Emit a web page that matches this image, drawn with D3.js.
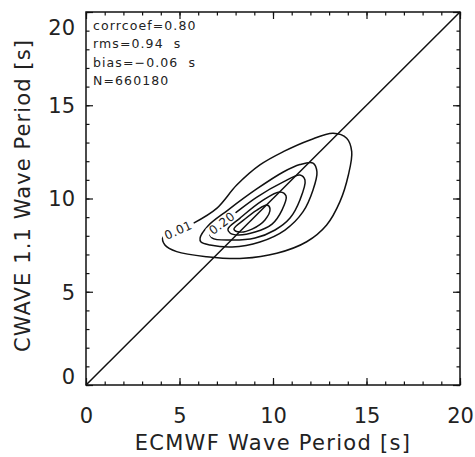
<!DOCTYPE html>
<html>
<head>
<meta charset="utf-8">
<script src="https://cdn.jsdelivr.net/npm/d3@7"></script>
<style>
  body { margin: 0; background: #fff; }
  text { font-family: "DejaVu Sans", sans-serif; fill: #222; }
</style>
</head>
<body>
<svg id="chart" width="475" height="457"></svg>
<script>
// tick values
const majorTicks = [0, 5, 10, 15, 20];
const minorTicks = d3.range(0, 21, 1);

// statistics printed in the corner
const statLines = ["corrcoef=0.80", "rms=0.94  s", "bias=\u22120.06  s", "N=660180"];

// contour rings, [ECMWF, CWAVE] in seconds, outer -> inner
const ring1 = [[4.12, 7.94], [5.74, 8.67], [6.99, 9.47], [8.06, 10.72], [9.30, 11.80], [10.55, 12.51],
  [11.98, 13.14], [13.22, 13.50], [13.94, 13.23], [14.21, 12.51], [14.03, 11.26], [13.58, 9.83],
  [12.87, 8.58], [11.80, 7.68], [10.20, 7.06], [8.41, 6.79], [6.45, 6.88], [4.85, 7.15], [4.22, 7.51]];
const ring2 = [[6.10, 7.88], [6.52, 8.53], [7.59, 9.38], [9.13, 10.51], [10.55, 11.42], [11.44, 11.82],
  [12.14, 11.90], [12.35, 11.42], [12.14, 10.46], [11.60, 9.28], [10.64, 8.31], [9.30, 7.67],
  [7.81, 7.40], [6.63, 7.51], [6.15, 7.67]];
const ring3 = [[6.63, 8.20], [7.91, 9.17], [9.14, 10.08], [10.53, 10.88], [11.44, 11.26], [11.71, 10.99],
  [11.44, 9.92], [10.91, 8.95], [10.11, 8.31], [9.04, 7.88], [7.70, 7.77], [6.74, 7.88]];
const ring4 = [[7.59, 8.36], [8.24, 8.95], [9.41, 9.87], [10.37, 10.35], [10.70, 10.13], [10.48, 9.38],
  [9.95, 8.63], [9.04, 8.20], [8.13, 8.04], [7.70, 8.15]];
const ring5 = [[7.91, 8.36], [8.50, 8.90], [9.14, 9.38], [9.68, 9.65], [9.84, 9.44], [9.57, 8.85],
  [8.88, 8.36], [8.24, 8.20]];
const rings = [ring1, ring2, ring3, ring4, ring5];
const ringLabels = ["0.01", "", "0.20", "", ""];

const svg = d3.select('#chart');

const x = d3.scaleLinear().domain([0, 20]).range([86, 460]);
const y = d3.scaleLinear().domain([0, 20]).range([385, 12]);

// ticks, all pointing inward
function addAxis(axisFn, scale, transform, labels) {
  const gMinor = svg.append('g').attr('transform', transform)
    .call(axisFn(scale).tickValues(minorTicks).tickSize(-3.5).tickFormat(''));
  const gMajor = svg.append('g').attr('transform', transform)
    .call(axisFn(scale).tickValues(majorTicks).tickSize(-7)
      .tickPadding(labels ? (axisFn === d3.axisBottom ? 23 : 11) : 0)
      .tickFormat(labels ? d3.format('d') : ''));
  [gMinor, gMajor].forEach(g => {
    g.select('.domain').remove();
    g.selectAll('line').attr('stroke', '#111').attr('stroke-width', 1.2);
  });
  gMajor.selectAll('text').style('font-size', '21px').attr('fill', '#222');
  return gMajor;
}

addAxis(d3.axisBottom, x, 'translate(0,385)', true);
addAxis(d3.axisTop, x, 'translate(0,12)', false);
const yAx = addAxis(d3.axisLeft, y, 'translate(86,0)', true);
addAxis(d3.axisRight, y, 'translate(460,0)', false);

// keep end labels inside the frame height like the original
yAx.selectAll('.tick text').attr('dy', d => d === 20 ? '1.05em' : d === 0 ? '-0.05em' : '0.35em');

// frame
svg.append('rect')
  .attr('x', x(0)).attr('y', y(20))
  .attr('width', x(20) - x(0)).attr('height', y(0) - y(20))
  .attr('fill', 'none').attr('stroke', '#111').attr('stroke-width', 1.5);

// 1:1 line
svg.append('line')
  .attr('x1', x(0)).attr('y1', y(0)).attr('x2', x(20)).attr('y2', y(20))
  .attr('stroke', '#111').attr('stroke-width', 1.5);

// contours
const line = d3.line()
  .x(d => x(d[0])).y(d => y(d[1]))
  .curve(d3.curveCatmullRomClosed.alpha(0.5));

svg.append('g').selectAll('path')
  .data(rings)
  .enter()
  .append('path')
  .attr('d', line)
  .attr('fill', 'none')
  .attr('stroke', '#111')
  .attr('stroke-width', 1.5);

// contour labels sit on the first segment of their ring
rings.forEach((ring, i) => {
  if (!ringLabels[i]) return;
  const x0 = x(ring[0][0]), y0 = y(ring[0][1]);
  const x1 = x(ring[1][0]), y1 = y(ring[1][1]);
  const cx = (x0 + x1) / 2, cy = (y0 + y1) / 2;
  const ang = Math.atan2(y1 - y0, x1 - x0) * 180 / Math.PI;
  const g = svg.append('g').attr('transform', 'translate(' + cx + ',' + cy + ') rotate(' + ang + ')');
  g.append('rect').attr('x', -17).attr('y', -5).attr('width', 34).attr('height', 10).attr('fill', '#fff');
  g.append('text')
    .attr('text-anchor', 'middle')
    .attr('dy', '0.36em')
    .style('font-size', '12px')
    .style('letter-spacing', '0.6px')
    .attr('fill', '#111')
    .text(ringLabels[i]);
});

// stats
svg.append('g').selectAll('text')
  .data(statLines)
  .enter()
  .append('text')
  .attr('x', x(0) + 7)
  .attr('y', (d, i) => y(20) + 18 + i * 18.4)
  .style('font-size', '12.5px')
  .style('letter-spacing', '1.1px')
  .style('white-space', 'pre')
  .attr('fill', '#111')
  .text(d => d);

// axis titles
svg.append('text')
  .attr('x', (x(0) + x(20)) / 2)
  .attr('y', 450)
  .attr('text-anchor', 'middle')
  .style('font-size', '21px')
  .style('letter-spacing', '1.3px')
  .text('ECMWF Wave Period [s]');

svg.append('text')
  .attr('transform', 'translate(30,' + ((y(0) + y(20)) / 2 - 3) + ') rotate(-90)')
  .attr('text-anchor', 'middle')
  .style('font-size', '21px')
  .style('letter-spacing', '1.1px')
  .text('CWAVE 1.1 Wave Period [s]');
</script>
</body>
</html>
